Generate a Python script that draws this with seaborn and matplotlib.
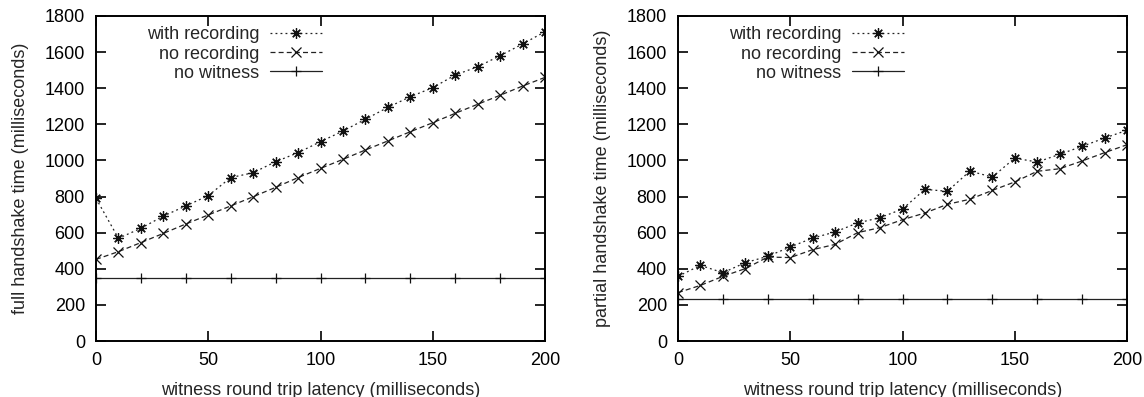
import matplotlib
matplotlib.use("Agg")
import matplotlib.pyplot as plt
import pandas as pd
import seaborn as sns

sns.set_theme(style="ticks")
plt.rcParams["font.family"] = ["Liberation Sans", "DejaVu Sans"]

latency = [0, 10, 20, 30, 40, 50, 60, 70, 80, 90, 100,
           110, 120, 130, 140, 150, 160, 170, 180, 190, 200]
witness_latency = [0, 20, 40, 60, 80, 100, 120, 140, 160, 180, 200]

full_with_rec = [790, 569, 624, 692, 748, 805, 905, 932, 993, 1043, 1104,
                 1163, 1228, 1294, 1353, 1403, 1473, 1519, 1580, 1645, 1713]
full_no_rec = [452, 495, 545, 596, 648, 698, 748, 799, 851, 905, 956,
               1006, 1058, 1108, 1159, 1209, 1261, 1311, 1361, 1412, 1460]
full_no_witness = [350] * len(witness_latency)

partial_with_rec = [358, 419, 378, 434, 469, 521, 570, 604, 654, 683, 731,
                    840, 829, 941, 908, 1013, 991, 1034, 1078, 1124, 1167]
partial_no_rec = [268, 308, 358, 401, 465, 462, 506, 535, 600, 628, 672,
                  709, 757, 785, 834, 881, 940, 954, 997, 1043, 1087]
partial_no_witness = [231] * len(witness_latency)

series_names = ["with recording", "no recording", "no witness"]
xlabel = "witness round trip latency (milliseconds)"
ylabels = ["full handshake time (milliseconds)", "partial handshake time (milliseconds)"]

FS = 13
MARKERS = {"with recording": (8, 2, 0), "no recording": "x", "no witness": "+"}
DASHES = {"with recording": (1.5, 2.5), "no recording": (4, 2.5), "no witness": ""}
PALETTE = {n: "#222222" for n in series_names}


def draw(ax, with_rec, no_rec, no_wit, ylabel):
    df = pd.concat([
        pd.DataFrame({"x": latency, "y": with_rec, "s": series_names[0]}),
        pd.DataFrame({"x": latency, "y": no_rec, "s": series_names[1]}),
        pd.DataFrame({"x": witness_latency, "y": no_wit, "s": series_names[2]}),
    ])
    sns.lineplot(data=df, x="x", y="y", hue="s", style="s", hue_order=series_names,
                 style_order=series_names, palette=PALETTE, markers=MARKERS,
                 dashes=DASHES, ax=ax, lw=0.9, markersize=7.5, markeredgewidth=0.9,
                 markeredgecolor="#111111")
    ax.set_xlim(0, 200)
    ax.set_ylim(0, 1800)
    ax.set_xticks(range(0, 201, 50))
    ax.set_yticks(range(0, 1801, 200))
    ax.tick_params(direction="in", length=7, width=1.2, top=True, right=True,
                   labelsize=FS, colors="black", pad=8)
    for sp in ax.spines.values():
        sp.set_linewidth(1.4)
        sp.set_color("black")
    ax.set_xlabel(xlabel, fontsize=FS, labelpad=9)
    ax.set_ylabel(ylabel, fontsize=FS, labelpad=11)
    ax.legend(loc="upper right", bbox_to_anchor=(0.52, 0.99), frameon=False,
              markerfirst=False, fontsize=FS, handlelength=2.9, handletextpad=0.6,
              labelspacing=0.12, borderaxespad=0.2, borderpad=0.2)


fig = plt.figure(figsize=(11.44, 3.97), dpi=100)
ax1 = fig.add_axes([96 / 1144, 56 / 397, 449 / 1144, 325 / 397])
ax2 = fig.add_axes([678 / 1144, 56 / 397, 449 / 1144, 325 / 397])
draw(ax1, full_with_rec, full_no_rec, full_no_witness, ylabels[0])
draw(ax2, partial_with_rec, partial_no_rec, partial_no_witness, ylabels[1])

fig.savefig("out.png", dpi=100)
